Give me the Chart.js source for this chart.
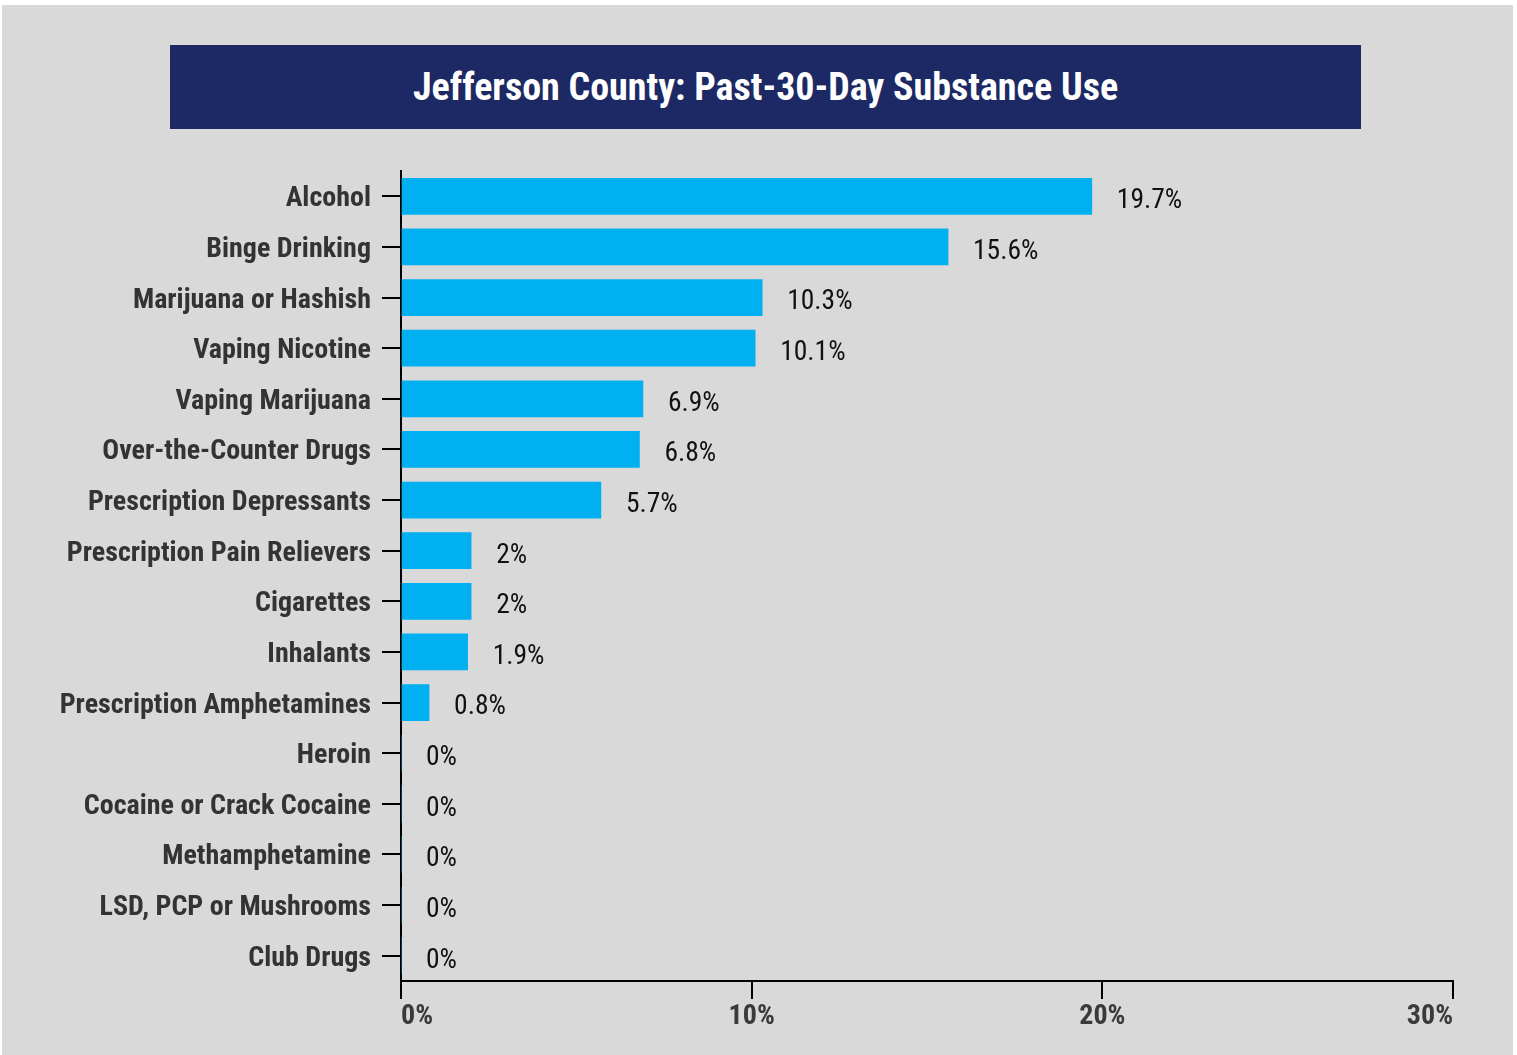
<!DOCTYPE html>
<html>
<head>
<meta charset="utf-8">
<script src="https://cdn.jsdelivr.net/npm/chart.js@4.4.1/dist/chart.umd.min.js"></script>
<style>
  html, body { margin: 0; padding: 0; background: #fff; }
  #panel { position: absolute; left: 2px; top: 5px; width: 1511px; height: 1050px; background: #d9d9d9; }
  #title {
    position: absolute; left: 170px; top: 45px; width: 1191px; height: 84px;
    background: #1d2964; color: #fff; text-align: center;
    font: bold 38px "Roboto Condensed", "Liberation Sans Narrow", "DejaVu Sans Condensed", sans-serif;
    line-height: 84px;
  }
  #wrap { position: absolute; left: 0; top: 0; width: 1517px; height: 1055px; }
</style>
</head>
<body>
<div id="panel"></div>
<div id="title">Jefferson County: Past-30-Day Substance Use</div>
<div id="wrap"><canvas id="chart" width="1517" height="1055"></canvas></div>
<script>
const FONT = '"Roboto Condensed", "Liberation Sans Narrow", "DejaVu Sans Condensed", sans-serif';

const substances = [
  'Alcohol', 'Binge Drinking', 'Marijuana or Hashish', 'Vaping Nicotine',
  'Vaping Marijuana', 'Over-the-Counter Drugs', 'Prescription Depressants',
  'Prescription Pain Relievers', 'Cigarettes', 'Inhalants',
  'Prescription Amphetamines', 'Heroin', 'Cocaine or Crack Cocaine',
  'Methamphetamine', 'LSD, PCP or Mushrooms', 'Club Drugs'
];
const pastMonthUse = [19.7, 15.6, 10.3, 10.1, 6.9, 6.8, 5.7, 2, 2, 1.9, 0.8, 0, 0, 0, 0, 0];
const xTicks = [0, 10, 20, 30];

// percent labels to the right of each bar
const valueLabels = {
  id: 'valueLabels',
  afterDatasetsDraw(chart) {
    const ctx = chart.ctx;
    const meta = chart.getDatasetMeta(0);
    ctx.save();
    ctx.font = '27.5px ' + FONT;
    ctx.fillStyle = '#111';
    ctx.textAlign = 'left';
    ctx.textBaseline = 'middle';
    meta.data.forEach((bar, i) => {
      ctx.fillText(pastMonthUse[i] + '%', bar.x + 25, bar.y + 5);
    });
    ctx.restore();
  }
};

new Chart(document.getElementById('chart'), {
  type: 'bar',
  data: {
    labels: substances,
    datasets: [{
      data: pastMonthUse,
      backgroundColor: '#00b0f0',
      barThickness: 36
    }]
  },
  options: {
    indexAxis: 'y',
    responsive: false,
    animation: false,
    layout: { padding: { top: 171, right: 64, left: 0, bottom: 0 } },
    plugins: { legend: { display: false }, tooltip: { enabled: false } },
    scales: {
      x: {
        min: 0, max: 30,
        afterBuildTicks: scale => { scale.ticks = xTicks.map(v => ({ value: v })); },
        afterFit: scale => { scale.height = 74; },
        border: { color: '#000', width: 2 },
        grid: { drawOnChartArea: false, color: '#000', lineWidth: 2, tickLength: 18 },
        ticks: {
          align: 'inner',
          padding: 1,
          color: '#3a3a3a',
          font: { family: FONT, size: 28, weight: 'bold' },
          callback: v => v + '%'
        }
      },
      y: {
        afterFit: scale => { scale.width = 401; },
        border: { color: '#000', width: 2 },
        grid: { drawOnChartArea: false, offset: false, color: '#000', lineWidth: 2, tickLength: 19 },
        ticks: {
          padding: 11,
          labelOffset: 3,
          color: '#333',
          font: { family: FONT, size: 28, weight: 'bold' }
        }
      }
    }
  },
  plugins: [valueLabels]
});
</script>
</body>
</html>
